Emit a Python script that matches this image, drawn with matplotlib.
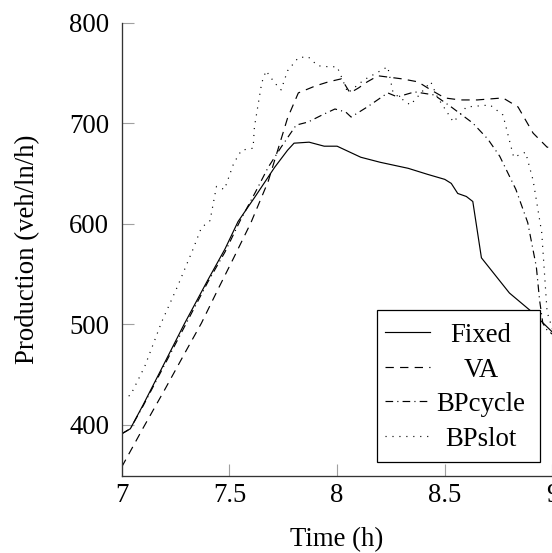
import matplotlib
matplotlib.use("Agg")
import matplotlib.pyplot as plt
from matplotlib.patches import Rectangle
from matplotlib.lines import Line2D

# Production per lane over the morning peak, four control strategies
fixed_t = [7.00, 7.04, 7.10, 7.20, 7.29, 7.40, 7.48, 7.54, 7.62, 7.71, 7.77, 7.80,
           7.87, 7.94, 8.00, 8.05, 8.11, 8.20, 8.33, 8.42, 8.50, 8.53, 8.56, 8.60,
           8.63, 8.67, 8.80, 8.90, 9.00]
fixed_v = [391, 396, 420, 462, 500, 544, 575, 602, 627, 656, 673, 680,
           681, 677, 677, 672, 666, 661, 655, 649, 644, 640, 630, 627,
           622, 566, 531, 513, 492]

va_t = [7.00, 7.10, 7.20, 7.30, 7.37, 7.45, 7.52, 7.60, 7.68, 7.77, 7.82, 7.90,
        7.96, 8.02, 8.06, 8.10, 8.14, 8.19, 8.30, 8.375, 8.435, 8.50, 8.57, 8.65,
        8.77, 8.84, 8.91, 8.975, 9.00]
va_v = [358, 397, 435, 474, 501, 536, 566, 601, 642, 705, 730, 737,
        741, 744, 730, 735, 741, 747, 744, 741, 733, 725, 723, 723,
        725, 716, 690, 676, 676]

bpc_t = [7.00, 7.04, 7.10, 7.20, 7.30, 7.40, 7.48, 7.55, 7.62, 7.68, 7.74, 7.81,
         7.865, 7.93, 7.99, 8.04, 8.065, 8.14, 8.235, 8.28, 8.36, 8.45, 8.53, 8.63,
         8.70, 8.755, 8.83, 8.885, 8.925, 8.94, 8.955, 8.975, 9.00]
bpc_v = [391, 396, 419, 460, 501, 542, 572, 603, 631, 656, 676, 698,
         701, 708, 714, 711, 706, 716, 730, 726, 731, 728, 716, 700,
         684, 667, 634, 601, 557, 524, 501, 494, 490]

bps_t = [7.00, 7.04, 7.107, 7.185, 7.26, 7.33, 7.37, 7.41, 7.44, 7.477, 7.52, 7.556,
         7.61, 7.616, 7.65, 7.67, 7.71, 7.74, 7.77, 7.82, 7.865, 7.91, 7.96, 8.00,
         8.02, 8.05, 8.125, 8.235, 8.26, 8.34, 8.435, 8.465, 8.54, 8.60, 8.71, 8.77,
         8.82, 8.875, 8.91, 8.95, 8.975, 9.00]
bps_v = [428, 429, 458, 502, 538, 574, 596, 603, 637, 634, 660, 673,
         675, 696, 740, 752, 740, 733, 752, 765, 766, 757, 756, 756,
         746, 730, 743, 756, 730, 718, 741, 726, 701, 716, 718, 708,
         666, 671, 643, 591, 512, 495]

labels = ["Fixed", "VA", "BPcycle", "BPslot"]

plt.rcParams["font.family"] = ["Liberation Serif", "DejaVu Serif"]
plt.rcParams["lines.scale_dashes"] = False
FS = 19.3
LW = 0.85
STYLES = ["-", (0, (6.0, 4.5)), (0, (5.5, 3.0, 0.8, 3.0)), (0, (0.8, 4.2))]

fig = plt.figure(figsize=(5.52, 5.53), dpi=100)
ax = fig.add_axes([0.2205, 0.1392, 0.7804, 0.8201])

series = [(fixed_t, fixed_v), (va_t, va_v), (bpc_t, bpc_v), (bps_t, bps_v)]
for (t, v), ls in zip(series, STYLES):
    ax.plot(t, v, color="black", lw=LW, linestyle=ls)

ax.set_xlim(7, 9)
ax.set_ylim(349, 800)
ax.set_xticks([7, 7.5, 8, 8.5, 9])
ax.set_xticklabels(["7", "7.5", "8", "8.5", "9"])
ax.set_yticks([400, 500, 600, 700, 800])

ax.spines[["top", "right"]].set_visible(False)
for s in ("left", "bottom"):
    ax.spines[s].set_linewidth(0.95)
    ax.spines[s].set_color("#333333")
ax.tick_params(direction="in", length=8.5, width=0.8, color="#a0a0a0",
               labelsize=FS)
ax.tick_params(axis="y", pad=9)
ax.tick_params(axis="x", pad=5)

ax.set_xlabel("Time (h)", fontsize=FS)
ax.set_ylabel("Production (veh/ln/h)", fontsize=FS)
ax.yaxis.label.set_va("center")
ax.yaxis.set_label_coords(-0.2175, 0.50)
ax.xaxis.label.set_va("baseline")
ax.xaxis.set_label_coords(0.5, -0.154)

# legend drawn by hand so the entry texts can be centred like pgfplots does
ax.add_patch(Rectangle((0.592, 0.031), 0.38, 0.335, transform=ax.transAxes,
                       facecolor="white", edgecolor="black", lw=0.9,
                       zorder=5, clip_on=False))
line_y = [0.318, 0.240, 0.165, 0.088]
text_y = [0.295, 0.218, 0.143, 0.066]
for lab, ls, ly, ty in zip(labels, STYLES, line_y, text_y):
    ax.add_line(Line2D([0.611, 0.716], [ly, ly], transform=ax.transAxes,
                       color="black", lw=LW, linestyle=ls, zorder=6,
                       clip_on=False))
    ax.text(0.834, ty, lab, transform=ax.transAxes, ha="center",
            va="baseline", fontsize=FS, zorder=6)

fig.savefig("out.png", dpi=100)
